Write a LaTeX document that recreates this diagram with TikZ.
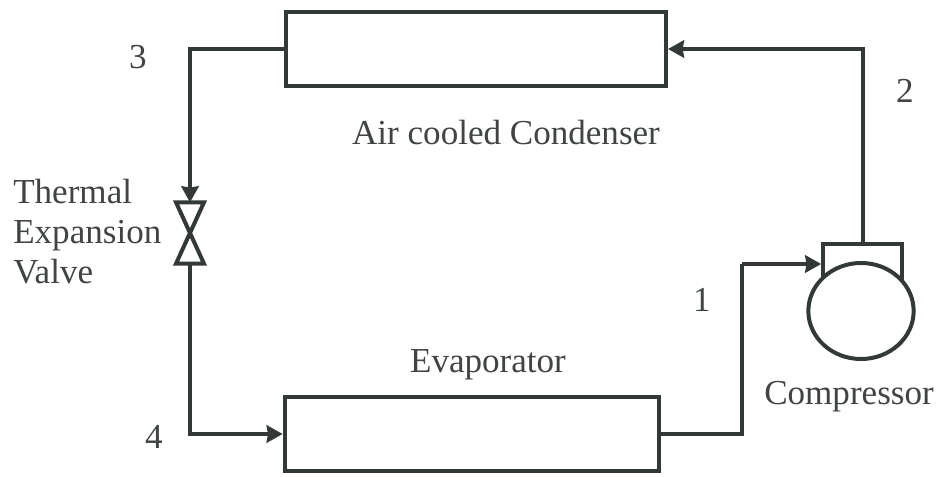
\documentclass[tikz,border=0pt]{standalone}
\usepackage{fontspec}
\setmainfont{Liberation Serif}
\usepackage{tikz}
\usetikzlibrary{arrows.meta, positioning, shapes.geometric}
\definecolor{linegray}{HTML}{333838}
\definecolor{textgray}{HTML}{404444}

\begin{document}
\begin{tikzpicture}[
    x=0.75pt, y=-0.75pt,
    exchanger/.style={rectangle, draw=linegray, line width=3pt, inner sep=0pt},
    label/.style={font=\fontsize{26.3}{30}\selectfont, text=textgray, inner sep=0pt},
    pipe/.style={draw=linegray, line width=3pt},
    flow/.style={pipe, -{Stealth[length=12pt, width=13pt, inset=1pt]}},
]
\useasboundingbox (0,0) rectangle (938,477);
\node[exchanger, minimum width=285pt, minimum height=56pt] (condenser) at (476, 49) {};
\node[exchanger, minimum width=281pt, minimum height=56pt] (evaporator) at (472, 434) {};
\node[exchanger, minimum width=59pt, minimum height=30pt] (head) at (862.5, 264) {};
\node[ellipse, draw=linegray, fill=white, line width=3pt, inner sep=0pt, minimum width=79pt, minimum height=72pt] (compressor) at (861, 311) {};
\node[minimum width=21pt, minimum height=46pt, inner sep=0pt, outer sep=0pt] (valve) at (190, 233) {};
\coordinate (bend) at (742, 264);

\draw[pipe, line join=miter] (valve.north west) -- (valve.south east) -- (valve.south west) -- (valve.north east) -- cycle;
\draw[flow] (condenser.west) -| (valve.north);
\draw[flow] (valve.south) |- (evaporator.west);
\draw[flow] (head.north) |- (condenser.east);
\draw[pipe] (evaporator.east) -| (bend);
\draw[flow] (bend) -- (head.west);

\node[label] (condenserlabel) at (506, 133) {Air cooled Condenser};
\node[label] (evaporatorlabel) at (488, 365) {Evaporator};
\node[label] (compressorlabel) at (849, 397) {Compressor};
\node[label, align=left, anchor=west] (valvelabel) at (13, 232) {Thermal\\Expansion\\Valve};
\node[label] (state1) at (702, 300) {1};
\node[label] (state2) at (905, 91) {2};
\node[label] (state3) at (138, 57) {3};
\node[label] (state4) at (154, 437) {4};
\end{tikzpicture}
\end{document}
